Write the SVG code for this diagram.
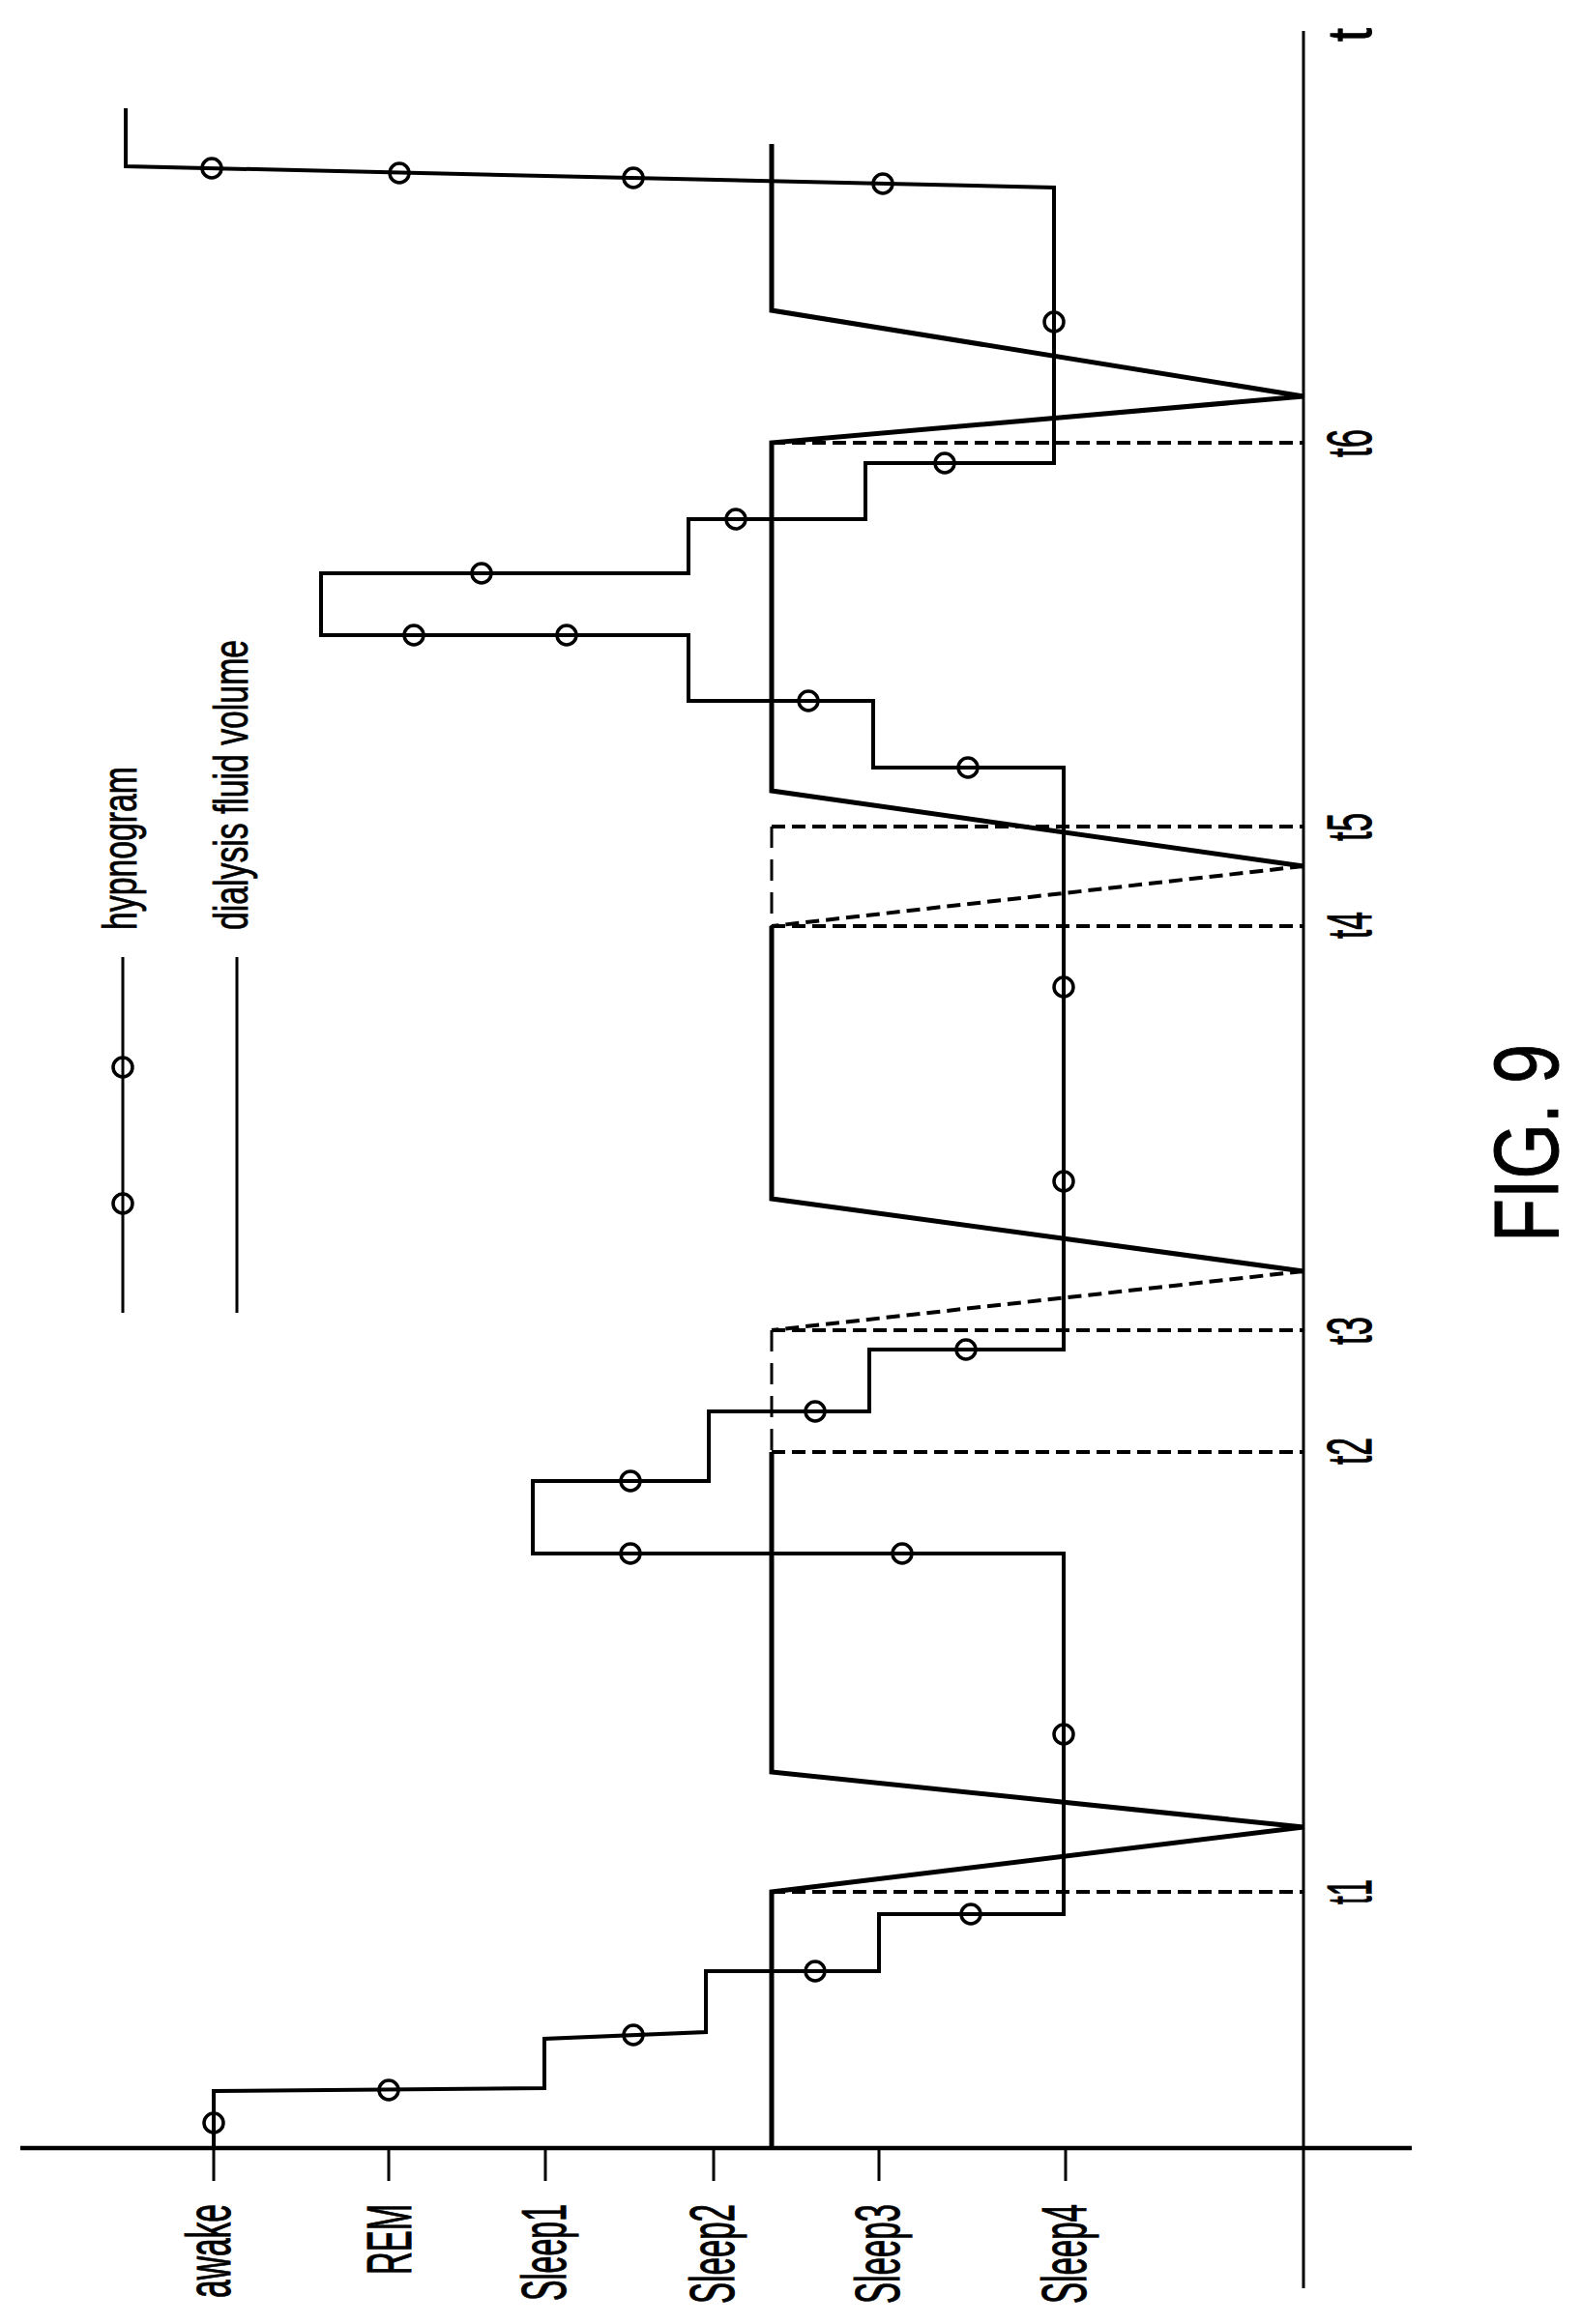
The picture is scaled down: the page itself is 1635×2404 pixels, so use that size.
<svg xmlns="http://www.w3.org/2000/svg" width="1635" height="2404" viewBox="0 0 1635 2404">
<style>
.ln{fill:none;stroke:#000;stroke-width:4;stroke-linejoin:miter}
.ax{fill:none;stroke:#000;stroke-width:3}
.dv{fill:none;stroke:#000;stroke-width:5}
.ds{fill:none;stroke:#000;stroke-width:4;stroke-dasharray:14 7}
.dl{fill:none;stroke:#000;stroke-width:3;stroke-dasharray:22 12}
.c{fill:none;stroke:#000;stroke-width:3.5}
.t{font-family:"Liberation Sans",Arial,sans-serif;font-size:64px;fill:#000;stroke:#000;stroke-width:1}
.s{font-family:"Liberation Sans",Arial,sans-serif;font-size:50px;fill:#000;stroke:#000;stroke-width:0.8}
</style>
<g id="axes">
<line class="ax" x1="21" y1="2222" x2="1460" y2="2222" style="stroke-width:4.5"/>
<line class="ax" x1="1348" y1="32" x2="1348" y2="2367"/>
<g class="ax">
<line x1="221" y1="2222" x2="221" y2="2256"/>
<line x1="402" y1="2222" x2="402" y2="2256"/>
<line x1="564" y1="2222" x2="564" y2="2256"/>
<line x1="738" y1="2222" x2="738" y2="2256"/>
<line x1="909" y1="2222" x2="909" y2="2256"/>
<line x1="1102" y1="2222" x2="1102" y2="2256"/>
</g>
</g>
<g id="axis-labels">
<text class="t" transform="translate(238,2280) rotate(-90)" text-anchor="end" textLength="97" lengthAdjust="spacingAndGlyphs">awake</text>
<text class="t" transform="translate(425,2280) rotate(-90)" text-anchor="end" textLength="73" lengthAdjust="spacingAndGlyphs">REM</text>
<text class="t" transform="translate(585,2280) rotate(-90)" text-anchor="end" textLength="100" lengthAdjust="spacingAndGlyphs">Sleep1</text>
<text class="t" transform="translate(759,2280) rotate(-90)" text-anchor="end" textLength="103" lengthAdjust="spacingAndGlyphs">Sleep2</text>
<text class="t" transform="translate(930,2280) rotate(-90)" text-anchor="end" textLength="103" lengthAdjust="spacingAndGlyphs">Sleep3</text>
<text class="t" transform="translate(1123,2280) rotate(-90)" text-anchor="end" textLength="103" lengthAdjust="spacingAndGlyphs">Sleep4</text>
<text class="t" transform="translate(1418,29) rotate(-90)" text-anchor="end" textLength="14" lengthAdjust="spacingAndGlyphs">t</text>
<text class="t" transform="translate(1418,473) rotate(-90)" textLength="29" lengthAdjust="spacingAndGlyphs">t6</text>
<text class="t" transform="translate(1418,870) rotate(-90)" textLength="29" lengthAdjust="spacingAndGlyphs">t5</text>
<text class="t" transform="translate(1418,971) rotate(-90)" textLength="28" lengthAdjust="spacingAndGlyphs">t4</text>
<text class="t" transform="translate(1418,1391) rotate(-90)" textLength="29" lengthAdjust="spacingAndGlyphs">t3</text>
<text class="t" transform="translate(1418,1515) rotate(-90)" textLength="28" lengthAdjust="spacingAndGlyphs">t2</text>
<text class="t" transform="translate(1418,1970) rotate(-90)" textLength="26" lengthAdjust="spacingAndGlyphs">t1</text>
</g>
<g id="legend">
<line class="ax" x1="127" y1="990" x2="127" y2="1358"/>
<circle class="c" cx="127" cy="1104" r="10"/>
<circle class="c" cx="127" cy="1245" r="10"/>
<line class="ax" x1="245" y1="990" x2="245" y2="1358"/>
<text class="s" transform="translate(141,962) rotate(-90)" textLength="169" lengthAdjust="spacingAndGlyphs">hypnogram</text>
<text class="s" transform="translate(256,962) rotate(-90)" textLength="300" lengthAdjust="spacingAndGlyphs">dialysis fluid volume</text>
</g>
<g id="connectors">
<g id="dialysis">
<polyline class="dv" points="798,149 798,321 1348,410 798,458 798,818 1348,896"/>
<polyline class="dv" points="798,958 798,1240 1348,1315"/>
<polyline class="dv" points="798,1502 798,1833 1348,1890 798,1957 798,2222"/>
<polyline class="ds" points="1348,896 798,958"/>
<polyline class="ds" points="1348,1315 798,1376"/>
<line class="dl" x1="798" y1="855" x2="798" y2="958"/>
<line class="dl" x1="798" y1="1376" x2="798" y2="1502"/>
<g class="ds">
<line x1="798" y1="458" x2="1348" y2="458"/>
<line x1="798" y1="855" x2="1348" y2="855"/>
<line x1="798" y1="958" x2="1348" y2="958"/>
<line x1="798" y1="1376" x2="1348" y2="1376"/>
<line x1="798" y1="1502" x2="1348" y2="1502"/>
<line x1="798" y1="1957" x2="1348" y2="1957"/>
</g>
</g>
<g id="hypnogram">
<polyline class="ln" points="130,112 130,172 1090,194 1090,479 895,479 895,537 712,537 712,593 332,593 332,657 712,657 712,725 903,725 903,794 1100,794 1100,1396 899,1396 899,1460 733,1460 733,1532 551,1532 551,1607 1100,1607 1100,1980 909,1980 909,2039 730,2039 730,2102 563,2109 563,2160 221,2163 221,2222"/>
<g class="c">
<circle cx="219" cy="174" r="10"/><circle cx="413" cy="179" r="10"/><circle cx="655" cy="184" r="10"/><circle cx="913" cy="190" r="10"/>
<circle cx="1090" cy="333" r="10"/><circle cx="977" cy="479" r="10"/><circle cx="761" cy="537" r="10"/><circle cx="498" cy="593" r="10"/>
<circle cx="428" cy="657" r="10"/><circle cx="586" cy="657" r="10"/><circle cx="836" cy="725" r="10"/><circle cx="1001" cy="794" r="10"/>
<circle cx="1100" cy="1021" r="10"/><circle cx="1100" cy="1222" r="10"/><circle cx="999" cy="1396" r="10"/><circle cx="843" cy="1460" r="10"/>
<circle cx="652" cy="1532" r="10"/><circle cx="652" cy="1607" r="10"/><circle cx="933" cy="1607" r="10"/><circle cx="1100" cy="1794" r="10"/>
<circle cx="1004" cy="1980" r="10"/><circle cx="843" cy="2039" r="10"/><circle cx="655" cy="2105" r="10"/><circle cx="402" cy="2162" r="10"/>
<circle cx="221" cy="2196" r="10"/>
</g>
</g>
</g>
<text class="t" style="font-size:95px" transform="translate(1611,1285) rotate(-90)" textLength="205" lengthAdjust="spacingAndGlyphs">FIG. 9</text>
</svg>
